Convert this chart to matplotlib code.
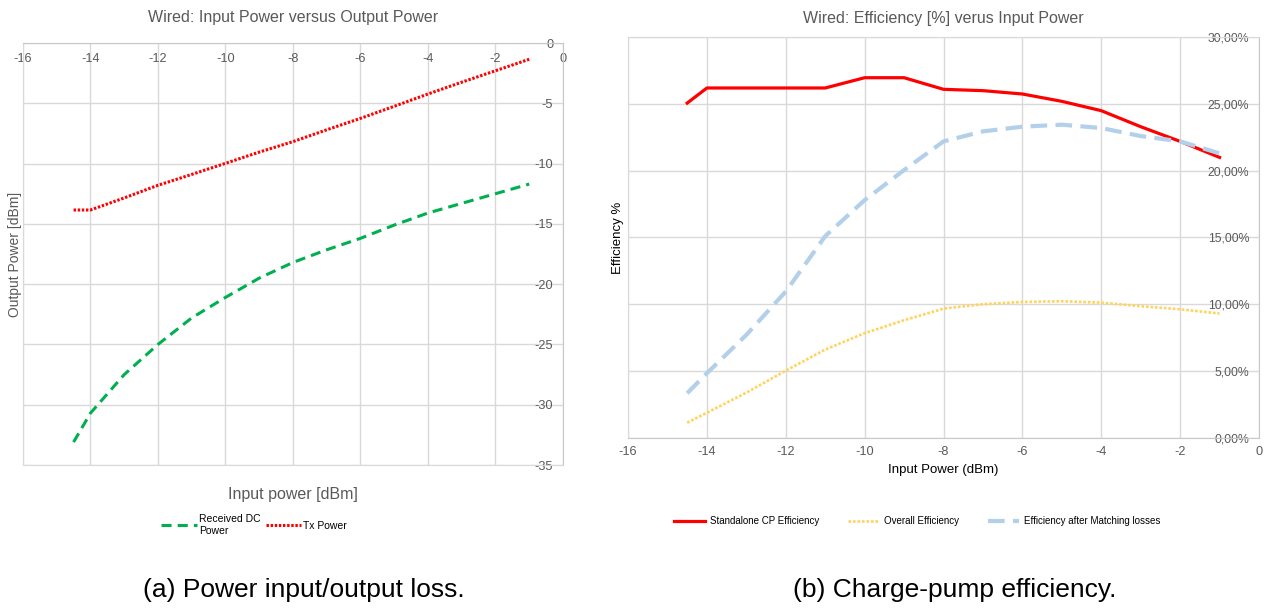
import matplotlib.pyplot as plt
from matplotlib.ticker import FuncFormatter

plt.rcParams['font.family'] = ['Liberation Sans', 'DejaVu Sans']
plt.rcParams['axes.unicode_minus'] = False

# Wired measurements, input power in dBm
p_in = [-14.5, -14, -13, -12, -11, -10, -9, -8, -7, -6, -5, -4, -3, -2, -1]

# Left chart: output power [dBm]
rx_dc = [-33.1, -30.7, -27.5, -25.0, -22.8, -21.1, -19.5, -18.2, -17.15, -16.2,
         -15.1, -14.1, -13.3, -12.5, -11.7]
tx_power = [-13.85, -13.85, -12.85, -11.8, -10.9, -9.98, -9.05, -8.18, -7.2, -6.25,
            -5.25, -4.23, -3.25, -2.3, -1.35]

# Right chart: efficiencies [%]
cp_eff = [25.07, 26.2, 26.2, 26.2, 26.2, 26.97, 26.97, 26.1, 26.0, 25.75,
          25.2, 24.5, 23.3, 22.2, 21.0]
overall_eff = [1.12, 1.87, 3.37, 5.02, 6.6, 7.83, 8.8, 9.67, 10.0, 10.17,
               10.22, 10.12, 9.85, 9.62, 9.3]
matched_eff = [3.33, 4.83, 7.7, 10.95, 15.1, 17.8, 20.05, 22.2, 22.95, 23.3,
               23.45, 23.2, 22.6, 22.2, 21.3]

GRID = '#d9d9d9'
TXT = '#595959'

fig = plt.figure(figsize=(12.68, 6.10), dpi=100)

# ---------- (a) power in/out ----------
ax1 = fig.add_axes([0.0181, 0.2377, 0.4259, 0.6918])
ax1.plot(p_in, rx_dc, color='#00b050', lw=2.2, linestyle=(0, (3.3, 2.0)),
         label='Received DC\nPower')
ax1.plot(p_in, tx_power, color='#ff0000', lw=2.2, linestyle=(0, (0.8, 0.55)),
         label='Tx Power')
ax1.set_xlim(-16, 0)
ax1.set_ylim(-35, 0)
ax1.set_xticks(range(-16, 1, 2))
ax1.set_yticks(range(-35, 1, 5))
ax1.grid(True, color=GRID, lw=1)
ax1.set_axisbelow(True)
for s in ax1.spines.values():
    s.set_color(GRID)
ax1.spines['top'].set_color('#c8c8c8')
ax1.spines['right'].set_color('#c8c8c8')
ax1.xaxis.tick_top()
ax1.yaxis.tick_right()
ax1.tick_params(axis='x', length=0, pad=-16, labelsize=9.2, labelcolor=TXT)
ax1.tick_params(axis='y', length=0, pad=-7, labelsize=9.2, labelcolor=TXT)
for lbl in ax1.get_yticklabels():
    lbl.set_ha('right')
ax1.xaxis.set_label_position('bottom')
ax1.yaxis.set_label_position('left')
ax1.set_xlabel('Input power [dBm]', fontsize=11.5, color=TXT, labelpad=16)
ax1.set_ylabel('Output Power [dBm]', fontsize=10, color=TXT, labelpad=0.5)
ax1.set_title('Wired: Input Power versus Output Power', fontsize=11.5,
              color=TXT, pad=15)
ax1.legend(loc='center', bbox_to_anchor=(0.428, -0.142), ncol=2, frameon=False,
           fontsize=7.5, handlelength=3.4, handletextpad=0.2, columnspacing=0.5)

# ---------- (b) efficiency ----------
ax2 = fig.add_axes([0.4953, 0.2825, 0.4976, 0.6564])
ax2.plot(p_in, cp_eff, color='#ff0000', lw=2.3, label='Standalone CP Efficiency')
ax2.plot(p_in, overall_eff, color='#ffd35c', lw=1.9, linestyle=(0, (1, 0.7)),
         label='Overall Efficiency')
ax2.plot(p_in, matched_eff, color='#b2d0ea', lw=3.0, linestyle=(0, (4, 2)),
         label='Efficiency after Matching losses')
ax2.set_xlim(-16, 0)
ax2.set_ylim(0, 30)
ax2.set_xticks(range(-16, 1, 2))
ax2.set_yticks(range(0, 31, 5))
ax2.yaxis.set_major_formatter(FuncFormatter(lambda v, _: f'{v:.2f}%'.replace('.', ',')))
ax2.grid(True, color=GRID, lw=1)
ax2.set_axisbelow(True)
for s in ax2.spines.values():
    s.set_color(GRID)
ax2.spines['bottom'].set_color('#c8c8c8')
ax2.spines['right'].set_color('#c8c8c8')
ax2.yaxis.tick_right()
ax2.tick_params(axis='x', length=0, pad=6, labelsize=9.2, labelcolor=TXT)
ax2.tick_params(axis='y', length=0, pad=-7, labelsize=8.8, labelcolor=TXT)
for lbl in ax2.get_yticklabels():
    lbl.set_ha('right')
ax2.yaxis.set_label_position('left')
ax2.set_xlabel('Input Power (dBm)', fontsize=9.5, color='black', labelpad=4)
ax2.set_ylabel('Efficiency %', fontsize=9.5, color='black', labelpad=3)
ax2.set_title('Wired: Efficiency [%] verus Input Power', fontsize=11.5,
              color=TXT, pad=10)
ax2.legend(loc='center', bbox_to_anchor=(0.458, -0.208), ncol=3, frameon=False,
           fontsize=7, handlelength=3.2, handletextpad=0.5, columnspacing=3.0)

# captions
fig.text(0.2397, 0.033, '(a) Power input/output loss.', ha='center', va='center',
         fontsize=19)
fig.text(0.753, 0.033, '(b) Charge-pump efficiency.', ha='center', va='center',
         fontsize=19)

fig.savefig('out.png', dpi=100)
